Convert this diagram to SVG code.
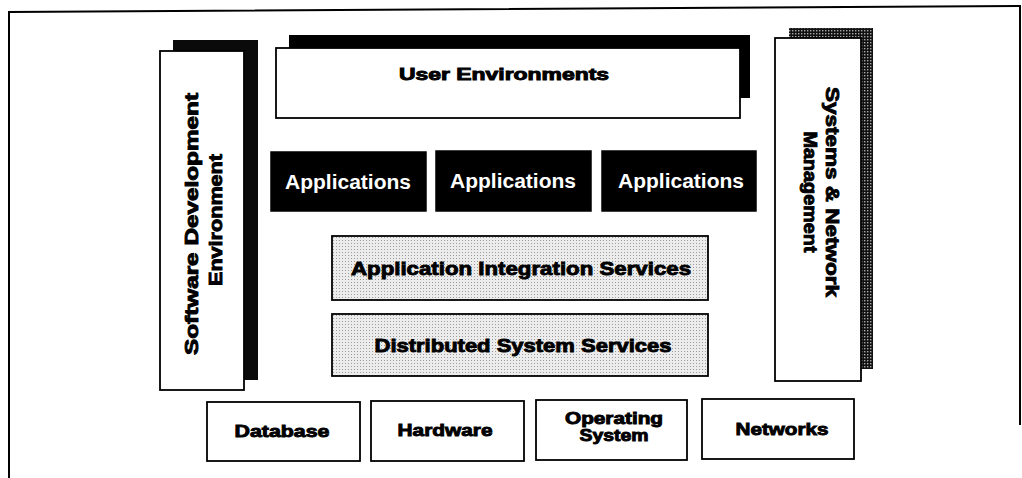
<svg xmlns="http://www.w3.org/2000/svg" width="1022" height="478" viewBox="0 0 1022 478">
  <defs>
    <!-- coarse dark stipple used for the right column's drop shadow -->
    <pattern id="darkDots" width="3" height="3" patternUnits="userSpaceOnUse">
      <rect width="3" height="3" fill="#111"/>
      <rect x="0" y="0" width="1.4" height="1.4" fill="#aaa"/>
    </pattern>
    <!-- fine light stipple for the service layers -->
    <pattern id="lightDots" width="3" height="3" patternUnits="userSpaceOnUse">
      <rect width="3" height="3" fill="#ececec"/>
      <rect x="0" y="0" width="1" height="1" fill="#9a9a9a"/>
    </pattern>
    <style>
      .box { fill: #fff; stroke: #000; stroke-width: 1.8; }
      .dark { fill: #000; stroke: #000; stroke-width: 1.5; }
      .stip { fill: url(#lightDots); stroke: #000; stroke-width: 1.8; }
      .lbl { font-family: "Liberation Sans", Arial, Helvetica, sans-serif; font-weight: bold;
             fill: #000; stroke: #000; stroke-width: 0.9; text-anchor: middle; }
      .inv { font-family: "Liberation Sans", Arial, Helvetica, sans-serif; font-weight: bold;
             fill: #fff; font-size: 20px; text-anchor: middle; }
    </style>
  </defs>

  <rect width="1022" height="478" fill="#fff"/>

  <!-- outer frame -->
  <path d="M9,478 L9,12 L1020,6 L1020,425" fill="none" stroke="#000" stroke-width="2"/>

  <g id="connectors"/>

  <!-- left column -->
  <g id="software-development-environment">
    <rect x="173" y="40" width="85" height="340" fill="#0a0a0a"/>
    <rect class="box" x="160" y="51" width="84" height="339"/>
    <text class="lbl" font-size="18" transform="translate(198,224) rotate(-90)" textLength="262" lengthAdjust="spacingAndGlyphs">Software Development</text>
    <text class="lbl" font-size="18" transform="translate(222,220) rotate(-90)" textLength="132" lengthAdjust="spacingAndGlyphs">Environment</text>
  </g>

  <!-- right column -->
  <g id="systems-network-management">
    <rect x="789" y="28" width="84" height="341" fill="url(#darkDots)"/>
    <rect class="box" x="775" y="38" width="86" height="343"/>
    <text class="lbl" font-size="18" transform="translate(826,192) rotate(90)" textLength="210" lengthAdjust="spacingAndGlyphs">Systems &amp; Network</text>
    <text class="lbl" font-size="18" transform="translate(804,192) rotate(90)" textLength="121" lengthAdjust="spacingAndGlyphs">Management</text>
  </g>

  <!-- top layer -->
  <g id="user-environments">
    <rect x="289" y="35" width="461" height="63" fill="#000"/>
    <rect class="box" x="276" y="48" width="464" height="70"/>
    <text class="lbl" font-size="16" x="504" y="80" textLength="210" lengthAdjust="spacingAndGlyphs">User Environments</text>
  </g>

  <!-- applications row -->
  <g id="applications-1">
    <rect class="dark" x="271" y="152" width="155" height="59"/>
    <text class="inv" x="348" y="189" textLength="126" lengthAdjust="spacingAndGlyphs">Applications</text>
  </g>
  <g id="applications-2">
    <rect class="dark" x="436" y="151" width="155" height="60"/>
    <text class="inv" x="513" y="188" textLength="126" lengthAdjust="spacingAndGlyphs">Applications</text>
  </g>
  <g id="applications-3">
    <rect class="dark" x="602" y="151" width="154" height="60"/>
    <text class="inv" x="681" y="188" textLength="126" lengthAdjust="spacingAndGlyphs">Applications</text>
  </g>

  <!-- service layers -->
  <g id="application-integration-services">
    <rect class="stip" x="332" y="236" width="376" height="64"/>
    <text class="lbl" font-size="19" x="521" y="275" textLength="340" lengthAdjust="spacingAndGlyphs">Application Integration Services</text>
  </g>
  <g id="distributed-system-services">
    <rect class="stip" x="332" y="314" width="376" height="62"/>
    <text class="lbl" font-size="19" x="523" y="352" textLength="297" lengthAdjust="spacingAndGlyphs">Distributed System Services</text>
  </g>

  <!-- platform row -->
  <g id="database">
    <rect class="box" x="207" y="402" width="153" height="59"/>
    <text class="lbl" font-size="17" x="282" y="437" textLength="95" lengthAdjust="spacingAndGlyphs">Database</text>
  </g>
  <g id="hardware">
    <rect class="box" x="371" y="401" width="153" height="60"/>
    <text class="lbl" font-size="17" x="445" y="436" textLength="95" lengthAdjust="spacingAndGlyphs">Hardware</text>
  </g>
  <g id="operating-system">
    <rect class="box" x="536" y="400" width="151" height="60"/>
    <text class="lbl" font-size="16" x="614" y="424" textLength="98" lengthAdjust="spacingAndGlyphs">Operating</text>
    <text class="lbl" font-size="16" x="614" y="441" textLength="69" lengthAdjust="spacingAndGlyphs">System</text>
  </g>
  <g id="networks">
    <rect class="box" x="702" y="399" width="152" height="60"/>
    <text class="lbl" font-size="17" x="782" y="435" textLength="93" lengthAdjust="spacingAndGlyphs">Networks</text>
  </g>
</svg>
